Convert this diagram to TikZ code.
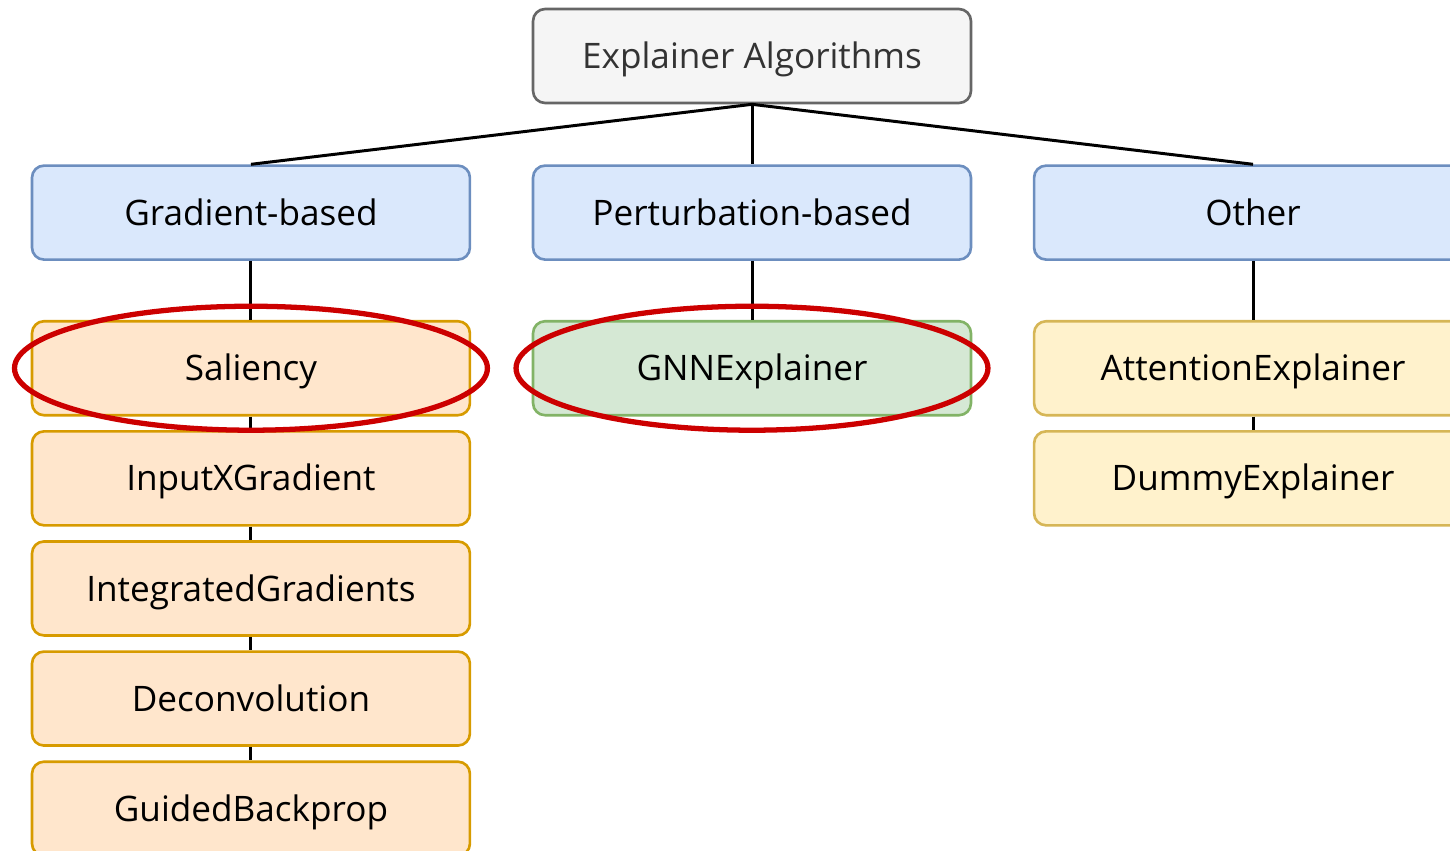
\documentclass[tikz,border=0pt]{standalone}
\usepackage{fontspec}
\setmainfont{Open Sans}
\usepackage{xcolor}
\usepackage{tikz}
\usetikzlibrary{positioning}

\definecolor{rootfill}{HTML}{F5F5F5}
\definecolor{rootdraw}{HTML}{666666}
\definecolor{catfill}{HTML}{DAE8FC}
\definecolor{catdraw}{HTML}{6C8EBF}
\definecolor{gradfill}{HTML}{FFE6CC}
\definecolor{graddraw}{HTML}{D79B00}
\definecolor{pertfill}{HTML}{D5E8D4}
\definecolor{pertdraw}{HTML}{82B366}
\definecolor{othfill}{HTML}{FFF2CC}
\definecolor{othdraw}{HTML}{D6B656}
\definecolor{ringred}{HTML}{CC0000}

\begin{document}
\begin{tikzpicture}[x=0.02cm, y=-0.02cm,
  box/.style={rectangle, rounded corners=0.24cm, line width=1.5pt, minimum width=8.76cm, minimum height=1.88cm, text height=14.4pt, text depth=0pt, font=\fontsize{20}{24}\selectfont},
  rootbox/.style={box, fill=rootfill, draw=rootdraw, text=black!80},
  catbox/.style={box, fill=catfill, draw=catdraw},
  gradbox/.style={box, fill=gradfill, draw=graddraw},
  pertbox/.style={box, fill=pertfill, draw=pertdraw},
  othbox/.style={box, fill=othfill, draw=othdraw},
  edge/.style={line width=1.7pt},
  ring/.style={draw=ringred, line width=3pt}]
\useasboundingbox (0,0) rectangle (1450,850);
\clip (0,0) rectangle (1450,850);

\node[rootbox] (root) at (752,56) {Explainer Algorithms};

\node[catbox] (pert) [below=1.2cm of root] {Perturbation-based};
\node[catbox] (grad) [left=1.21cm of pert] {Gradient-based};
\node[catbox] (other) [right=1.21cm of pert] {Other};

\node[gradbox] (sal) [below=1.18cm of grad] {Saliency};
\node[gradbox] (ixg) [below=0.27cm of sal] {InputXGradient};
\node[gradbox] (ig) [below=0.27cm of ixg] {IntegratedGradients};
\node[gradbox] (deconv) [below=0.27cm of ig] {Deconvolution};
\node[gradbox] (gbp) [below=0.27cm of deconv] {GuidedBackprop};

\node[pertbox] (gnn) [below=1.18cm of pert] {GNNExplainer};

\node[othbox] (att) [below=1.18cm of other] {AttentionExplainer};
\node[othbox] (dummy) [below=0.27cm of att] {DummyExplainer};

\draw[edge] (root.south) -- (grad.north);
\draw[edge] (root.south) -- (pert.north);
\draw[edge] (root.south) -- (other.north);

\draw[edge] (grad) -- (sal);
\draw[edge] (sal) -- (ixg);
\draw[edge] (ixg) -- (ig);
\draw[edge] (ig) -- (deconv);
\draw[edge] (deconv) -- (gbp);
\draw[edge] (pert) -- (gnn);
\draw[edge] (other) -- (att);
\draw[edge] (att) -- (dummy);

% highlighted methods
\draw[ring] (sal) ellipse [x radius=4.73cm, y radius=1.24cm];
\draw[ring] (gnn) ellipse [x radius=4.72cm, y radius=1.24cm];

\end{tikzpicture}
\end{document}
